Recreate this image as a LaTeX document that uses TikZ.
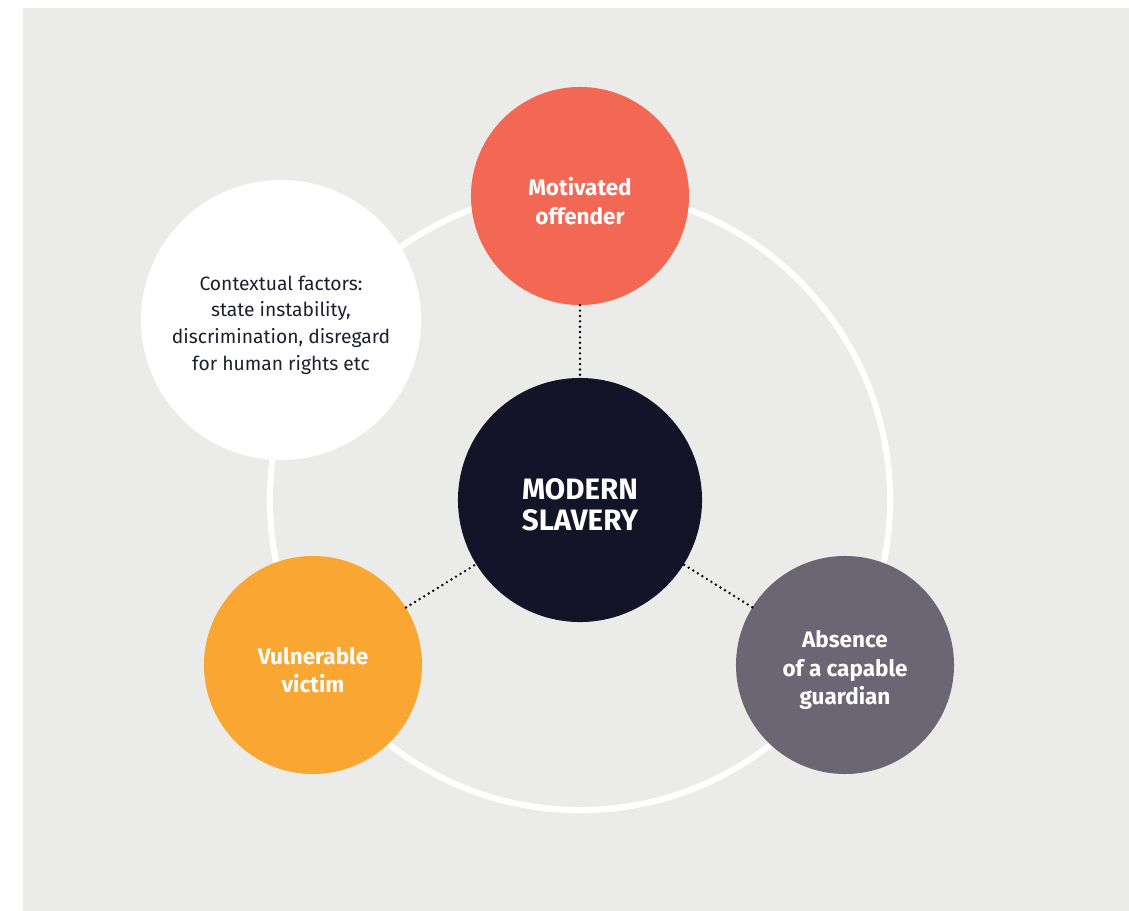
\documentclass[tikz,border=0pt]{standalone}
\usepackage{fontspec}
\setmainfont{Fira Sans}
\usetikzlibrary{calc, positioning}

\definecolor{panelgrey}{HTML}{EBEBE9}
\definecolor{offendercol}{HTML}{F36755}
\definecolor{victimcol}{HTML}{F9A633}
\definecolor{guardiancol}{HTML}{6B6673}
\definecolor{corecol}{HTML}{131427}
\definecolor{textcol}{HTML}{1E1F2E}

\begin{document}
\begin{tikzpicture}[x=0.025cm, y=-0.025cm,
    blob/.style={circle, inner sep=0pt},
    blobtext/.style={align=center, text=white, inner sep=0pt,
      font=\fontsize{16}{20.5}\selectfont\bfseries},
    dotline/.style={line width=1.9pt, line cap=round, dash pattern=on 0pt off 3.8pt}]
      \useasboundingbox (0, 0) rectangle (1129, 911);
      \fill[panelgrey] (23, 8) rectangle (1129, 911);
      % ring behind the circles
      \draw[white, line width=4.3pt] (580, 500) circle [radius=7.75cm];
      \node[blob, fill=corecol, minimum size=6.1cm] (core) at (580, 500) {};
      \node[blob, fill=offendercol, minimum size=5.45cm] (offender) at (580, 196) {};
      \node[blob, fill=victimcol, minimum size=5.45cm] (victim) at (313, 665) {};
      \node[blob, fill=guardiancol, minimum size=5.45cm] (guardian) at (845, 665) {};
      \node[blob, fill=white, minimum size=7cm] (context) at (281, 320) {};
      % texts, a little below the centres
      \node[blobtext, font=\fontsize{21}{22}\selectfont\bfseries] (coreText)
        at ([yshift=-3.6pt]core.center) {MODERN\\SLAVERY};
      \node[blobtext] (offenderText) at ([yshift=-3.6pt]offender.center) {Motivated\\offender};
      \node[blobtext] (victimText) at ([yshift=-3.6pt]victim.center) {Vulnerable\\victim};
      \node[blobtext] (guardianText) at ([yshift=-3.6pt]guardian.center) {Absence\\of a capable\\guardian};
      \node[blobtext, text=textcol, font=\fontsize{13.7}{19}\selectfont] (contextText)
        at ([yshift=-3.6pt]context.center)
        {Contextual factors:\\state instability,\\discrimination, disregard\\for human rights etc};
      \draw[dotline] (offender) -- (core);
      \draw[dotline] (victim) -- (core);
      \draw[dotline] (guardian) -- (core);
    \end{tikzpicture}
\end{document}
